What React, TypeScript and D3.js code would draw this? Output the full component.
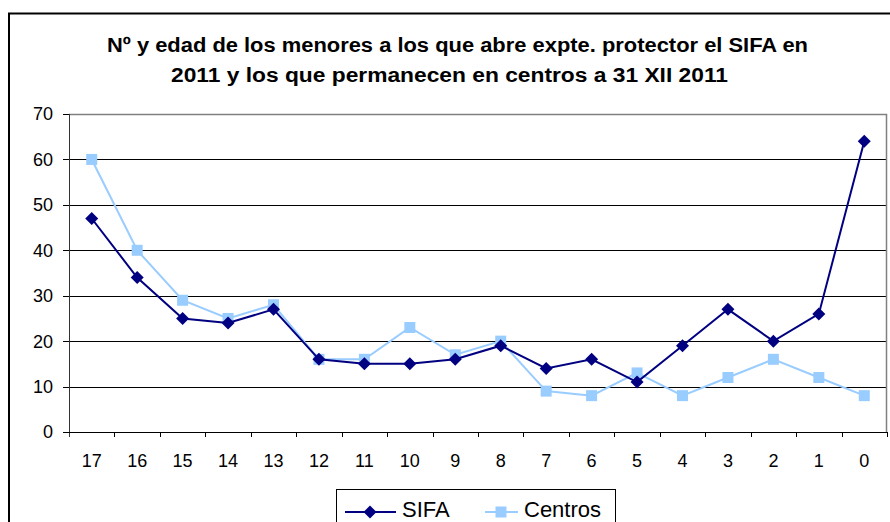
import React from 'react';
import * as d3 from 'd3';

const ages = ['17', '16', '15', '14', '13', '12', '11', '10', '9', '8', '7', '6', '5', '4', '3', '2', '1', '0'];
const sifa = [47, 34, 25, 24, 27, 16, 15, 15, 16, 19, 14, 16, 11, 19, 27, 20, 26, 64];
const centros = [60, 40, 29, 25, 28, 16, 16, 23, 17, 20, 9, 8, 13, 8, 12, 16, 12, 8];
const yTicks = [0, 10, 20, 30, 40, 50, 60, 70];
const titleLines = [
  'Nº y edad de los menores a los que abre expte. protector el SIFA en',
  '2011 y los que permanecen en centros a 31 XII 2011',
];

const W = 890;
const H = 522;
const plot = { left: 69, right: 887, top: 114, bottom: 432 };
const font = '"Liberation Sans", Arial, sans-serif';

// diamond as a square turned 45deg, like the spreadsheet marker
const diamond = 'M0,-6.5L6.5,0L0,6.5L-6.5,0Z';

export default function App() {
  const x = d3.scaleBand().domain(ages).range([plot.left, plot.right]).padding(0);
  const y = d3.scaleLinear().domain([0, 70]).range([plot.bottom, plot.top]);
  const cx = (d: string) => (x(d) ?? 0) + x.bandwidth() / 2;

  const line = d3.line<number>()
    .x((_, i) => cx(ages[i]))
    .y(v => y(v));

  const square = d3.symbol().type(d3.symbolSquare).size(121)();

  return (
    <svg width={W} height={H} style={{ position: 'absolute', left: 0, top: 0, background: '#fff' }}>
      <rect x={9} y={13.5} width={W + 10} height={H} fill="#fff" stroke="#000" strokeWidth={2} />

      {/* title */}
      <text x={107} y={52} fontFamily={font} fontWeight="bold" fontSize={20}
        textLength={701} lengthAdjust="spacingAndGlyphs">{titleLines[0]}</text>
      <text x={171} y={82} fontFamily={font} fontWeight="bold" fontSize={20}
        textLength={557} lengthAdjust="spacingAndGlyphs">{titleLines[1]}</text>

      {/* grid */}
      {yTicks.filter(t => t > 0 && t < 70).map(t => (
        <line key={t} x1={plot.left} x2={plot.right} y1={Math.round(y(t)) + 0.5} y2={Math.round(y(t)) + 0.5}
          stroke="#000" strokeWidth={1} />
      ))}
      <path d={`M${plot.left},${plot.top + 0.5}H${plot.right - 0.5}V${plot.bottom}`} fill="none" stroke="#808080" strokeWidth={1.5} />

      {/* y axis */}
      <line x1={plot.left + 0.5} x2={plot.left + 0.5} y1={plot.top} y2={plot.bottom + 5} stroke="#333" />
      {yTicks.map(t => (
        <g key={t}>
          <line x1={plot.left - 6} x2={plot.left} y1={Math.round(y(t)) + 0.5} y2={Math.round(y(t)) + 0.5} stroke="#000" />
          <text x={53} y={y(t)} dy="0.36em" textAnchor="end" fontFamily={font} fontSize={18}>{t}</text>
        </g>
      ))}

      {/* x axis */}
      <line x1={plot.left} x2={plot.right} y1={plot.bottom + 0.5} y2={plot.bottom + 0.5} stroke="#000" />
      {ages.map(a => (
        <g key={a}>
          <line x1={Math.round((x(a) ?? 0) + x.bandwidth()) + 0.5} x2={Math.round((x(a) ?? 0) + x.bandwidth()) + 0.5}
            y1={plot.bottom} y2={plot.bottom + 5} stroke="#000" />
          <text x={cx(a)} y={466.5} textAnchor="middle" fontFamily={font} fontSize={18}>{a}</text>
        </g>
      ))}

      {/* series */}
      <path d={line(centros) ?? ''} fill="none" stroke="#99CCFF" strokeWidth={2} />
      {centros.map((v, i) => (
        <path key={i} d={square ?? ''} transform={`translate(${cx(ages[i])},${y(v)})`} fill="#99CCFF" />
      ))}
      <path d={line(sifa) ?? ''} fill="none" stroke="#000080" strokeWidth={2} />
      {sifa.map((v, i) => (
        <path key={i} d={diamond} transform={`translate(${cx(ages[i])},${y(v)})`} fill="#000080" />
      ))}

      {/* legend */}
      <rect x={336.5} y={489.5} width={279} height={40} fill="#fff" stroke="#000" />
      <line x1={345} x2={396} y1={512} y2={512} stroke="#000080" strokeWidth={2} />
      <path d={diamond} transform="translate(370,512)" fill="#000080" />
      <text x={402} y={517} fontFamily={font} fontSize={22}>SIFA</text>
      <line x1={485} x2={518} y1={512} y2={512} stroke="#99CCFF" strokeWidth={2} />
      <path d={square ?? ''} transform="translate(501,512)" fill="#99CCFF" />
      <text x={524} y={517} fontFamily={font} fontSize={22}>Centros</text>
    </svg>
  );
}
